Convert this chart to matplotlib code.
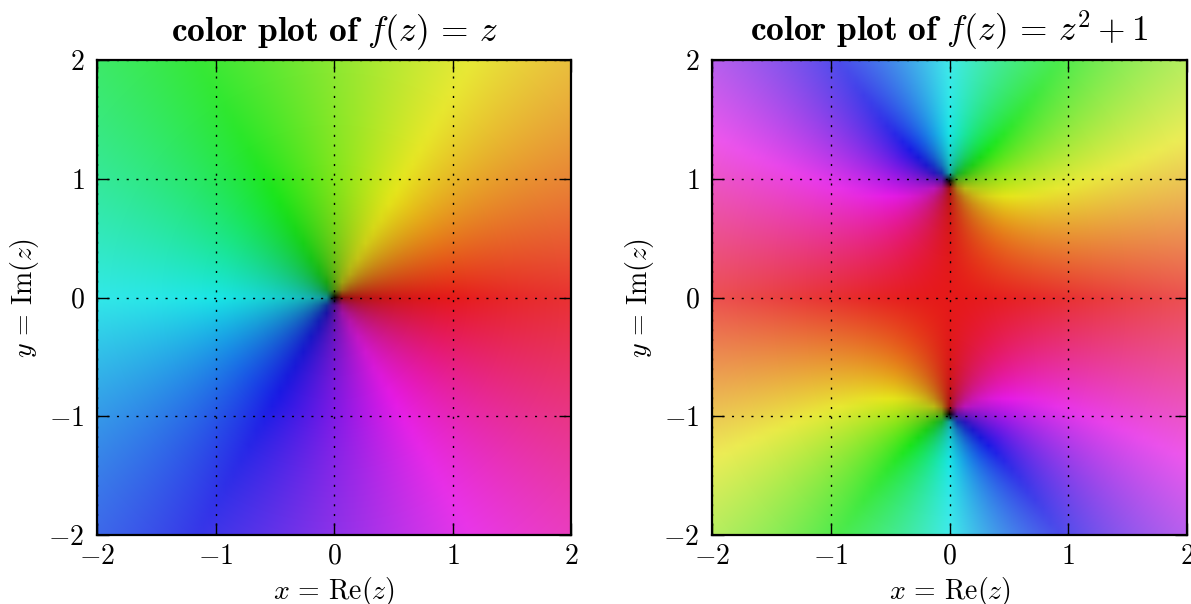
import numpy as np
import matplotlib
matplotlib.use("Agg")
import matplotlib.pyplot as plt
from matplotlib.colors import hsv_to_rgb

plt.rcParams['mathtext.fontset'] = 'cm'
plt.rcParams['font.family'] = ['cmr10', 'DejaVu Sans']
plt.rcParams['axes.formatter.use_mathtext'] = True

# The chart shows functions named in its titles, coloured by argument and modulus
titles = [r"$\mathbf{color\ plot\ of}\ f(z)\,=\,z$",
          r"$\mathbf{color\ plot\ of}\ f(z)\,=\,z^2+1$"]
coeffs_left = [1, 0]
coeffs_right = [1, 0, 1]
tick_values = [-2, -1, 0, 1, 2]
tick_labels = [r"$-2$", r"$-1$", r"$0$", r"$1$", r"$2$"]
xlabel_text = r"$x\,=\,\mathrm{Re}(z)$"
ylabel_text = r"$y\,=\,\mathrm{Im}(z)$"


def hls_to_rgb_arr(h, l, s):
    v = l + s * np.minimum(l, 1 - l)
    sv = np.where(v > 0, 2 * (1 - l / np.maximum(v, 1e-12)), 0)
    return hsv_to_rgb(np.dstack([h, sv, v]))


def color_image(coeffs, n=61):
    xs = np.linspace(-2, 2, n)
    X, Y = np.meshgrid(xs, xs)
    w = np.polyval(coeffs, X + 1j * Y)
    hue = ((np.angle(w) + np.pi) / (2 * np.pi) + 0.5) % 1.0
    light = 1.0 - 1.0 / (1.0 + np.abs(w) ** 0.3)
    return hls_to_rgb_arr(hue, light, 0.8)


W, H = 1191, 604
fig = plt.figure(figsize=(W / 100, H / 100), dpi=100)
boxes = [(97, 60, 571, 535), (712, 60, 1187, 535)]
for box, coeffs, title in zip(boxes, [coeffs_left, coeffs_right], titles):
    l, t, r, b = box
    ax = fig.add_axes([l / W, 1 - b / H, (r - l) / W, (b - t) / H])
    ax.imshow(color_image(coeffs), extent=[-2, 2, -2, 2], origin='lower',
              interpolation='bilinear', aspect='auto', zorder=0)
    ax.set_xlim(-2, 2)
    ax.set_ylim(-2, 2)
    ax.set_xticks(tick_values)
    ax.set_xticklabels(tick_labels)
    ax.set_yticks(tick_values)
    ax.set_yticklabels(tick_labels)
    ax.tick_params(direction='in', length=8.5, width=1.0, labelsize=20,
                   top=True, right=True, color='black')
    ax.tick_params(axis='x', pad=6)
    ax.tick_params(axis='y', pad=9)
    ax.grid(True, color='black', linestyle=(0, (1.5, 5.5)), linewidth=1.0)
    ax.set_axisbelow(False)
    for s in ax.spines.values():
        s.set_linewidth(1.6)
    ax.set_xlabel(xlabel_text, fontsize=20, labelpad=4)
    ax.set_ylabel(ylabel_text, fontsize=20, labelpad=5)
    ax.set_title(title, fontsize=25.5, pad=14)

fig.savefig("out.png", dpi=100)
